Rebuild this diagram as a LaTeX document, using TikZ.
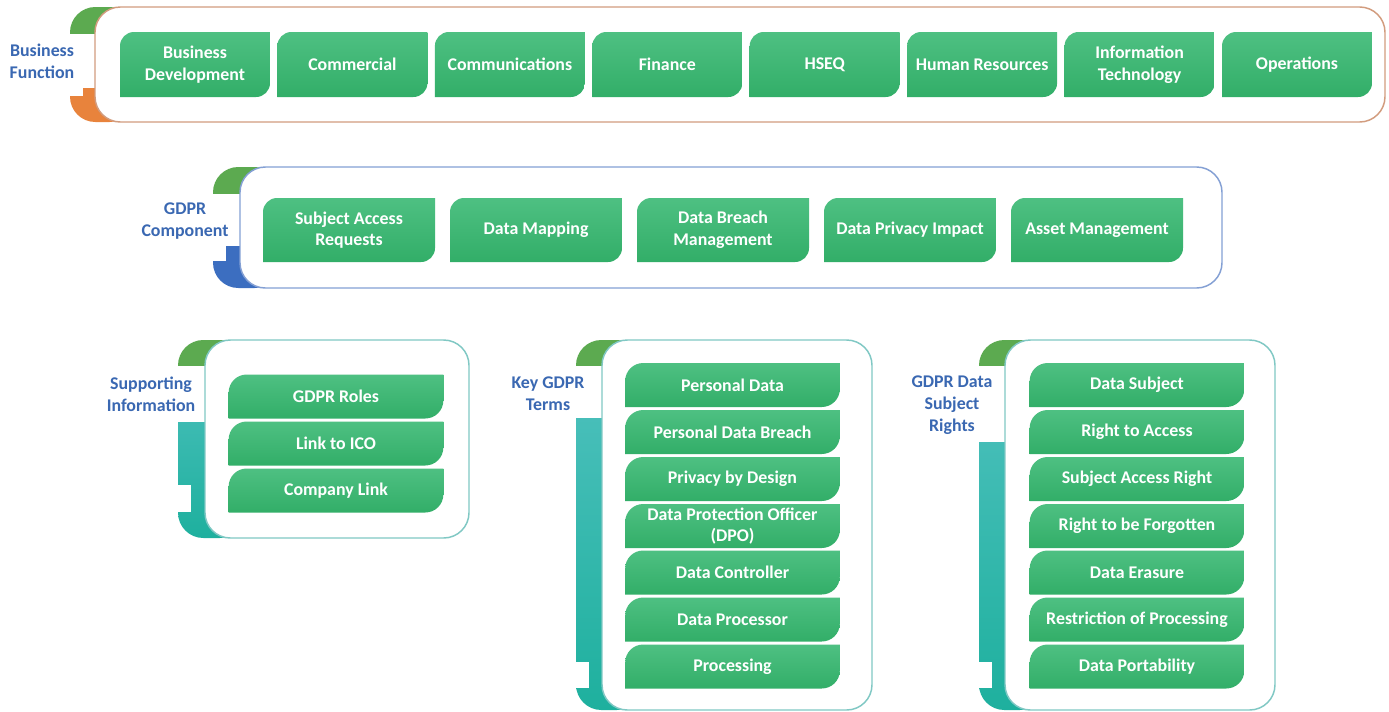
\documentclass[tikz,border=0pt]{standalone}
\usepackage{fontspec}
\setmainfont{Carlito}
\definecolor{gtop}{RGB}{78,192,130}
\definecolor{gbot}{RGB}{50,174,104}
\definecolor{tabgreen}{RGB}{92,170,80}
\definecolor{tabor}{RGB}{232,131,60}
\definecolor{tabblue}{RGB}{60,110,192}
\definecolor{tealtop}{RGB}{82,194,192}
\definecolor{tealbot}{RGB}{30,176,158}
\definecolor{lblblue}{RGB}{58,104,178}
\definecolor{outor}{RGB}{210,156,126}
\definecolor{outblue}{RGB}{132,160,212}
\definecolor{outteal}{RGB}{128,200,196}
\newlength{\gr}
\newcommand{\mkpanel}[9]{%
  \begin{scope}
    \clip (#1-5,#7) rectangle (#2+40,#5+5);
    \path[lowfill,rounded corners=19pt] (#1,#4) rectangle (#2+40,#5);
  \end{scope}
  \begin{scope}
    \clip (#1-5,#4-5) rectangle (#2+40,#6);
    \fill[tabgreen,rounded corners=19pt] (#1,#4) rectangle (#2+40,#5);
  \end{scope}
  \fill[white] (#1-1,#8) rectangle (#1+13,#9);
  \path[fill=white,outl,line width=1.1pt,rounded corners=19pt] (#2,#4) rectangle (#3,#5);
}
\tikzset{
  gbox/.style={inner sep=0pt, align=center, text=white,
    font=\bfseries\fontsize{13.4}{16.2}\selectfont,
    path picture={\shade[top color=gtop,bottom color=gbot]
      (path picture bounding box.south west)
      -- ([yshift=-\gr]path picture bounding box.north west)
      arc[start angle=180,end angle=90,radius=\gr]
      -- (path picture bounding box.north east)
      -- ([yshift=\gr]path picture bounding box.south east)
      arc[start angle=0,end angle=-90,radius=\gr]
      -- cycle;}},
  rowbox/.style={gbox, minimum width=112.5pt, minimum height=48.75pt},
  compbox/.style={gbox, minimum width=129pt, minimum height=48pt},
  stackbox/.style={gbox, minimum width=161pt, minimum height=33pt},
  lbl/.style={align=center, text=lblblue, font=\bfseries\fontsize{13.4}{16.5}\selectfont}
}
\begin{document}
\begin{tikzpicture}[x=0.75pt,y=-0.75pt]
\useasboundingbox[fill=white] (0,0) rectangle (1389,711);

% ---- panels ----
\begin{scope}[lowfill/.style={fill=tabor}, outl/.style={draw=outor}]
\mkpanel{70}{95}{1385}{7}{122}{33}{88}{88}{96}
\end{scope}
\begin{scope}[lowfill/.style={fill=tabblue}, outl/.style={draw=outblue}]
\mkpanel{213}{240}{1222}{167}{288}{193}{246}{246}{261}
\end{scope}
\begin{scope}[lowfill/.style={top color=tealtop,bottom color=tealbot}, outl/.style={draw=outteal}]
\mkpanel{178}{205}{469}{340}{538}{365}{422}{485}{512}
\mkpanel{576}{602}{872}{340}{710}{365}{418}{662}{688}
\mkpanel{979}{1005}{1275}{340}{710}{365}{442}{662}{688}
\end{scope}

% ---- labels ----
\node[lbl] (lbf) at (42,61) {Business\\Function};
\node[lbl] (lgc) at (185,221) {GDPR\\Component};
\node[lbl] (lsi) at (151,394) {Supporting\\Information};
\node[lbl] (lkt) at (548,394) {Key GDPR\\Terms};
\node[lbl] (lsr) at (952,405) {GDPR Data\\Subject\\Rights};

% ---- business functions ----
\setlength{\gr}{10.5pt}
\node[rowbox] (bf1) at (195,64.5) {Business\\Development};
\node[rowbox] (bf2) at (352.4,64.5) {Commercial};
\node[rowbox] (bf3) at (509.9,64.5) {Communications};
\node[rowbox] (bf4) at (667.3,64.5) {Finance};
\node[rowbox] (bf5) at (824.7,64.5) {HSEQ};
\node[rowbox] (bf6) at (982.1,64.5) {Human Resources};
\node[rowbox] (bf7) at (1139.6,64.5) {Information\\Technology};
\node[rowbox] (bf8) at (1297,64.5) {Operations};

% ---- GDPR components ----
\node[compbox] (gc1) at (349,230) {Subject Access\\Requests};
\node[compbox] (gc2) at (536,230) {Data Mapping};
\node[compbox] (gc3) at (723,230) {Data Breach\\Management};
\node[compbox] (gc4) at (910,230) {Data Privacy Impact};
\node[compbox] (gc5) at (1097,230) {Asset Management};

% ---- stacks ----
\setlength{\gr}{13.5pt}
\node[stackbox] (si1) at (336,396.5) {GDPR Roles};
\node[stackbox] (si2) at (336,443.5) {Link to ICO};
\node[stackbox] (si3) at (336,490.5) {Company Link};

\node[stackbox] (kt1) at (732.5,385) {Personal Data};
\node[stackbox] (kt2) at (732.5,432) {Personal Data Breach};
\node[stackbox] (kt3) at (732.5,479) {Privacy by Design};
\node[stackbox] (kt4) at (732.5,526) {Data Protection Officer\\(DPO)};
\node[stackbox] (kt5) at (732.5,572.5) {Data Controller};
\node[stackbox] (kt6) at (732.5,619.5) {Data Processor};
\node[stackbox] (kt7) at (732.5,666.5) {Processing};

\node[stackbox] (sr1) at (1137,385) {Data Subject};
\node[stackbox] (sr2) at (1137,432) {Right to Access};
\node[stackbox] (sr3) at (1137,479) {Subject Access Right};
\node[stackbox] (sr4) at (1137,526) {Right to be Forgotten};
\node[stackbox] (sr5) at (1137,572.5) {Data Erasure};
\node[stackbox] (sr6) at (1137,619.5) {Restriction of Processing};
\node[stackbox] (sr7) at (1137,666.5) {Data Portability};
\end{tikzpicture}
\end{document}
